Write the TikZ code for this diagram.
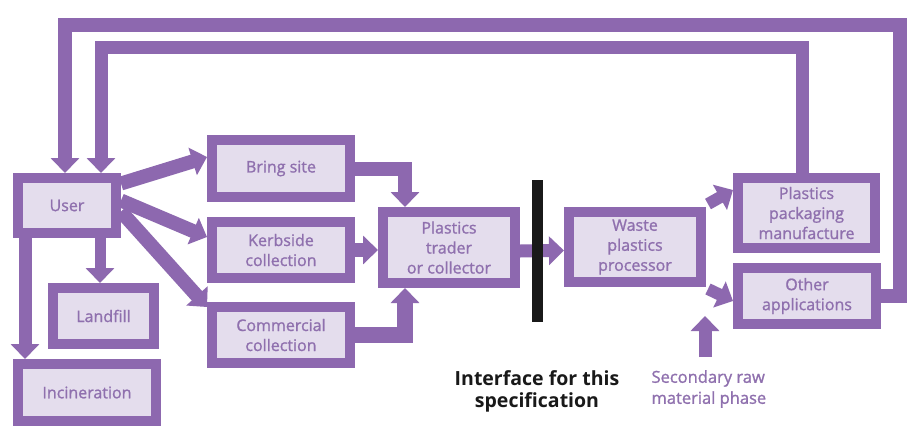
\documentclass[tikz,border=0pt]{standalone}
\usepackage{fontspec}
\setmainfont{Open Sans}
\newfontfamily\medfont{Open Sans}[FakeBold=1.2]
\usetikzlibrary{arrows.meta,calc}
\definecolor{pborder}{HTML}{8D68AF}
\definecolor{pfill}{HTML}{E4DDED}
\definecolor{ptext}{HTML}{8F70AE}
\begin{document}
\begin{tikzpicture}[x=1pt,y=-1pt,
  box/.style={draw=pborder, line width=10pt, fill=pfill, text=ptext,
    font=\medfont\fontsize{16}{20}\selectfont, align=center, inner sep=0pt},
  arr/.style={draw=pborder, line width=13pt, line join=miter,
    -{Triangle[width=28pt,length=15pt]}}]
\fill[white] (0,0) rectangle (915,439);
\useasboundingbox (0,0) rectangle (915,439);

% boxes
\node[box, minimum width=98, minimum height=55] (user) at (67,205.5) {User};
\node[box, minimum width=138, minimum height=57] (bring) at (281,168.5) {Bring site};
\node[box, minimum width=138, minimum height=56] (kerb) at (281,250) {Kerbside\\collection};
\node[box, minimum width=138, minimum height=56] (comm) at (281,335) {Commercial\\collection};
\node[box, minimum width=101, minimum height=56] (landfill) at (103.5,316) {Landfill};
\node[box, minimum width=138, minimum height=57] (incin) at (87,392.5) {Incineration};
\node[box, minimum width=132, minimum height=71] (trader) at (449,247.5) {Plastics\\trader\\or collector};
\node[box, minimum width=132, minimum height=70] (waste) at (635,247) {Waste\\plastics\\processor};
\node[box, minimum width=137, minimum height=70] (pack) at (806.5,213) {Plastics\\packaging\\manufacture};
\node[box, minimum width=138, minimum height=56] (other) at (807,296) {Other\\applications};

% helper coordinates
\coordinate (o1) at (900,25);
\coordinate (o2) at (65,25);
\coordinate (i1) at (802,47);
\coordinate (i2) at (101,47);
\coordinate (lf) at (100,0);
\coordinate (ic) at (25,0);
\coordinate (b1) at (405,0);
\coordinate (wp1) at (708,204);
\coordinate (wp2) at (708,289);
\coordinate (s1) at (705,357);
\coordinate (s2) at (705,316);
\coordinate (bt) at (537,180);
\coordinate (bb) at (537,322);

% feedback loops
\draw[arr, line width=14pt] (other.east) -- (o1 |- other.east) -- (o1) -- (o2) -- (o2 |- user.north);
\draw[arr] (i1 |- pack.north) -- (i1) -- (i2) -- (i2 |- user.north);

% from user
\draw[arr, line width=14pt] ([yshift=22]user.east) -- ([yshift=11.5]bring.west);
\draw[arr, line width=14pt] ([yshift=5]user.east) -- ([yshift=13]kerb.west);
\draw[arr, line width=14pt] ([yshift=-6]user.east) -- ([yshift=28]comm.west);
\draw[arr, line width=11pt] (lf |- user.south) -- (lf |- landfill.north);
\draw[arr, line width=13pt] (ic |- user.south) -- (ic |- incin.north);

% into trader
\draw[arr, line width=14pt] (bring.east) -- (b1 |- bring.east) -- (b1 |- trader.north);
\draw[arr, line width=14pt] (kerb.east) -- (kerb.east -| trader.west);
\draw[arr, line width=16pt] (comm.east) -- (b1 |- comm.east) -- (b1 |- trader.south);

% trader to waste
\draw[arr] ([yshift=-3.5]trader.east) -- ([yshift=-3.5]waste.west);
\draw[line width=11pt, black!90] (bt) -- (bb);

% waste to outputs
\draw[arr, line width=12pt] (wp1) -- ([yshift=23]pack.west);
\draw[arr, line width=12pt] (wp2) -- ([yshift=-5]other.west);

% secondary raw
\draw[arr] (s1) -- (s2);

% labels
\node[font=\fontsize{19.5}{22}\selectfont\bfseries, text=black!90, align=center] (iface) at (537,391) {Interface for this\\specification};
\node[font=\medfont\fontsize{16.5}{21}\selectfont, text=ptext, align=left, anchor=west] (sec) at (648,389) {Secondary raw\\material phase};
\end{tikzpicture}
\end{document}
